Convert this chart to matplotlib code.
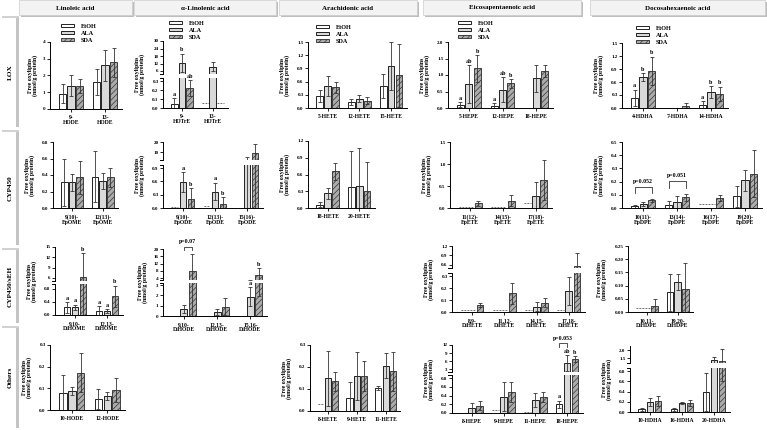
import numpy as np
import matplotlib
matplotlib.use('Agg')
import matplotlib.pyplot as plt
from matplotlib.patches import Rectangle, Patch

plt.rcParams['font.family'] = ['Liberation Serif', 'DejaVu Serif']
plt.rcParams['font.weight'] = 'bold'
plt.rcParams['hatch.linewidth'] = 0.45

nd = np.nan  # not detected

treatments = ['EtOH', 'ALA', 'SDA']
col_titles = ['Linoleic acid', 'α-Linolenic acid', 'Arachidonic acid',
              'Eicosapentaenoic acid', 'Docosahexaenoic acid']
row_titles = ['LOX', 'CYP450', 'CYP450/sEH', 'Others']

# ---- data: mean / sd rows are EtOH, ALA, SDA (nmol/g protein) ----
# LOX
lox_la_labels = ['9-\nHODE', '13-\nHODE']
lox_la_mean = [[0.92, 1.60], [1.40, 2.60], [1.40, 2.78]]
lox_la_sd = [[0.55, 0.78], [0.65, 0.95], [0.42, 0.88]]

lox_aln_labels = ['9-\nHOTrE', '13-\nHOTrE']
lox_aln_mean = [[0.05, nd], [12.5, 9.5], [0.22, nd]]
lox_aln_sd = [[0.06, 0], [7.5, 3.7], [0.09, 0]]
lox_aln_letters = [['a', ''], ['b', ''], ['ab', '']]
lox_aln_lod = [None, 0.055]

lox_aa_labels = ['5-HETE', '12-HETE', '15-HETE']
lox_aa_mean = [[0.27, 0.13, 0.50], [0.50, 0.21, 0.95], [0.47, 0.17, 0.74]]
lox_aa_sd = [[0.13, 0.07, 0.27], [0.22, 0.08, 0.55], [0.12, 0.09, 0.72]]

lox_epa_labels = ['5-HEPE', '12-HEPE', '18-HEPE']
lox_epa_mean = [[0.10, 0.07, nd], [0.73, 0.56, 0.90], [1.20, 0.75, 1.12]]
lox_epa_sd = [[0.07, 0.07, 0], [0.57, 0.38, 0.40], [0.40, 0.13, 0.18]]
lox_epa_letters = [['a', 'a', ''], ['ab', 'ab', ''], ['b', 'b', '']]

lox_dha_labels = ['4-HDHA', '7-HDHA', '14-HDHA']
lox_dha_mean = [[0.23, nd, 0.06], [0.72, nd, 0.37], [0.85, 0.05, 0.33]]
lox_dha_sd = [[0.19, 0, 0.10], [0.09, 0, 0.14], [0.33, 0.06, 0.16]]
lox_dha_letters = [['a', '', 'a'], ['b', '', 'b'], ['b', '', 'b']]
lox_dha_lod = [None, 0.008, None]

# CYP450
cyp_la_labels = ['9(10)-\nEpOME', '12(13)-\nEpOME']
cyp_la_mean = [[0.31, 0.38], [0.31, 0.33], [0.37, 0.37]]
cyp_la_sd = [[0.29, 0.31], [0.10, 0.10], [0.20, 0.12]]

cyp_aln_labels = ['9(10)-\nEpODE', '12(13)-\nEpODE', '15(16)-\nEpODE']
cyp_aln_mean = [[nd, nd, nd], [0.58, 0.37, 2.5], [0.20, 0.09, 9.0]]
cyp_aln_sd = [[0, 0, 0], [0.23, 0.20, 2.8], [0.25, 0.16, 9.5]]
cyp_aln_letters = [['', '', ''], ['a', 'a', ''], ['b', 'b', '']]
cyp_aln_lod = [0.02, 0.035, None]

cyp_aa_labels = ['18-HETE', '20-HETE']
cyp_aa_mean = [[0.06, 0.38], [0.26, 0.39], [0.66, 0.30]]
cyp_aa_sd = [[0.05, 0.64], [0.10, 0.69], [0.15, 0.52]]

cyp_epa_labels = ['11(12)-\nEpETE', '14(15)-\nEpETE', '17(18)-\nEpETE']
cyp_epa_mean = [[nd, nd, nd], [nd, nd, 0.28], [0.11, 0.17, 0.64]]
cyp_epa_sd = [[0, 0, 0], [0, 0, 0.32], [0.06, 0.12, 0.46]]
cyp_epa_lod = [0.02, 0.02, 0.11]

cyp_dha_labels = ['10(11)-\nEpDPE', '13(14)-\nEpDPE', '16(17)-\nEpDPE', '19(20)-\nEpDPE']
cyp_dha_mean = [[0.012, 0.025, nd, 0.088], [0.030, 0.045, nd, 0.21], [0.057, 0.080, 0.075, 0.26]]
cyp_dha_sd = [[0.013, 0.025, 0, 0.08], [0.015, 0.043, 0, 0.08], [0.013, 0.027, 0.025, 0.18]]
cyp_dha_lod = [None, None, 0.03, None]
cyp_dha_pvals = ['p=0.052', 'p=0.051']

# CYP450/sEH
seh_la_labels = ['9,10-\nDiHOME', '12,13-\nDiHOME']
seh_la_mean = [[0.23, 0.12], [0.23, 0.12], [6.3, 0.57]]
seh_la_sd = [[0.17, 0.15], [0.08, 0.05], [6.9, 0.33]]
seh_la_letters = [['a', 'a'], ['a', 'a'], ['b', 'b']]

seh_aln_labels = ['9,10-\nDiHODE', '12,13-\nDiHODE', '15,16-\nDiHODE']
seh_aln_mean = [[nd, nd, nd], [0.65, 0.39, 1.86], [8.0, 0.88, 5.7]]
seh_aln_sd = [[0, 0, 0], [0.40, 0.26, 0.91], [9.2, 0.82, 3.8]]
seh_aln_letters = [['', '', ''], ['', '', 'a'], ['', '', 'b']]
seh_aln_lod = [None, None, 0.02]
seh_aln_pvals = ['p=0.07']

seh_epa_labels = ['8,9-\nDiHETE', '11,12-\nDiHETE', '14,15-\nDiHETE', '17,18-\nDiHETE']
seh_epa_mean = [[nd, nd, nd, nd], [nd, nd, 0.045, 0.175], [0.058, 0.155, 0.078, 0.55]]
seh_epa_sd = [[0, 0, 0, 0], [0, 0, 0.035, 0.115], [0.014, 0.085, 0.037, 0.42]]
seh_epa_lod = [0.02, 0.02, 0.02, 0.02]

seh_dha_labels = ['10,11-\nDiHDPE', '19,20-\nDiHDPE']
seh_dha_mean = [[nd, 0.075], [nd, 0.114], [0.022, 0.087]]
seh_dha_sd = [[0, 0.07], [0, 0.03], [0.028, 0.10]]
seh_dha_lod = [0.015, None]

# Others
oth_la_labels = ['10-HODE', '12-HODE']
oth_la_mean = [[0.077, 0.049], [0.088, 0.065], [0.172, 0.092]]
oth_la_sd = [[0.085, 0.046], [0.02, 0.02], [0.09, 0.054]]

oth_aa_labels = ['8-HETE', '9-HETE', '11-HETE']
oth_aa_mean = [[nd, 0.06, 0.105], [0.148, 0.16, 0.205], [0.135, 0.158, 0.18]]
oth_aa_sd = [[0, 0.072, 0.01], [0.125, 0.11, 0.057], [0.043, 0.068, 0.09]]
oth_aa_lod = [0.03, None, None]

oth_epa_labels = ['8-HEPE', '9-HEPE', '11-HEPE', '18-HEPE']
oth_epa_mean = [[nd, nd, nd, 0.20], [0.12, 0.37, 0.29, 5.2], [0.17, 0.49, 0.37, 6.7]]
oth_epa_sd = [[0, 0, 0, 0.08], [0.11, 0.33, 0.16, 3.1], [0.10, 0.23, 0.11, 1.0]]
oth_epa_letters = [['', '', '', 'a'], ['', '', '', 'ab'], ['', '', '', 'b']]
oth_epa_lod = [0.01, 0.07, 0.03, None]
oth_epa_pvals = ['p=0.053']

oth_dha_labels = ['10-HDHA', '16-HDHA', '20-HDHA']
oth_dha_mean = [[0.052, 0.05, 0.39], [0.197, 0.177, 1.35], [0.22, 0.177, 1.32]]
oth_dha_sd = [[0.025, 0.03, 0.38], [0.08, 0.02, 0.2], [0.1, 0.05, 0.72]]

# ---- layout (pixels in a 767x430 canvas) ----
W, H = 767, 430
OFF = [-0.25, 0.0, 0.25]
BW = 0.21
STYLE = [dict(facecolor='white', edgecolor='black'),
         dict(facecolor='#d9d9d9', edgecolor='black'),
         dict(facecolor='#ababab', edgecolor='#2a2a2a', hatch='//////')]

f1 = [0, 0.3, 0.6, 0.9, 1.2, 1.5]
panels = [
    dict(labels=lox_la_labels, mean=lox_la_mean, sd=lox_la_sd, x=(50, 122), y=(42, 109),
         ylim=(0, 4), yticks=[0, 1, 2, 3, 4], fmt='%d', legend=(61, 24)),
    dict(labels=lox_aln_labels, mean=lox_aln_mean, sd=lox_aln_sd, letters=lox_aln_letters, lod=lox_aln_lod,
         x=(163, 228), y=(41, 74, 78, 108), ylim_top=(3.6, 30), yticks_top=[6, 12, 18, 24, 30], fmt_top='%d',
         ylim=(0, 0.335), yticks=[0, 0.1, 0.2, 0.3], fmt='%.1f', legend=(169, 21)),
    dict(labels=lox_aa_labels, mean=lox_aa_mean, sd=lox_aa_sd, x=(308, 407), y=(42, 108),
         ylim=(0, 1.5), yticks=f1, fmt='%.1f', legend=(316, 25)),
    dict(labels=lox_epa_labels, mean=lox_epa_mean, sd=lox_epa_sd, letters=lox_epa_letters,
         x=(448, 553), y=(42, 108), ylim=(0, 2), yticks=[0, 0.5, 1, 1.5, 2], fmt='%.1f', legend=(458, 21)),
    dict(labels=lox_dha_labels, mean=lox_dha_mean, sd=lox_dha_sd, letters=lox_dha_letters, lod=lox_dha_lod,
         x=(622, 728), y=(43, 108), ylim=(0, 1.5), yticks=f1, fmt='%.1f', legend=(636, 26)),

    dict(labels=cyp_la_labels, mean=cyp_la_mean, sd=cyp_la_sd, x=(53, 118), y=(142, 208),
         ylim=(0, 0.8), yticks=[0, 0.2, 0.4, 0.6, 0.8], fmt='%.1f'),
    dict(labels=cyp_aln_labels, mean=cyp_aln_mean, sd=cyp_aln_sd, letters=cyp_aln_letters, lod=cyp_aln_lod,
         x=(163, 263), y=(142, 160, 165, 208), ylim_top=(2.3, 20), yticks_top=[10, 20], fmt_top='%d',
         ylim=(0, 0.97), yticks=[0, 0.3, 0.6, 0.9], fmt='%.1f'),
    dict(labels=cyp_aa_labels, mean=cyp_aa_mean, sd=cyp_aa_sd, x=(308, 375), y=(141, 208),
         ylim=(0, 1.2), yticks=f1[:5], fmt='%.1f'),
    dict(labels=cyp_epa_labels, mean=cyp_epa_mean, sd=cyp_epa_sd, lod=cyp_epa_lod, x=(450, 552), y=(142, 208),
         ylim=(0, 1.5), yticks=[0, 0.5, 1, 1.5], fmt='%.1f'),
    dict(labels=cyp_dha_labels, mean=cyp_dha_mean, sd=cyp_dha_sd, lod=cyp_dha_lod, x=(622, 762), y=(142, 208),
         ylim=(0, 0.5), yticks=[0, 0.1, 0.2, 0.3, 0.4, 0.5], fmt='%.1f',
         brackets=[(0, 0, 2, 0.162, 0.112, cyp_dha_pvals[0]), (1, 0, 2, 0.205, 0.155, cyp_dha_pvals[1])]),

    dict(labels=seh_la_labels, mean=seh_la_mean, sd=seh_la_sd, letters=seh_la_letters,
         x=(55, 123), y=(247, 281, 284, 315), ylim_top=(5.1, 15), yticks_top=[6, 9, 12, 15], fmt_top='%d',
         ylim=(0, 0.95), yticks=[0, 0.4, 0.8], fmt='%.1f'),
    dict(labels=seh_aln_labels, mean=seh_aln_mean, sd=seh_aln_sd, letters=seh_aln_letters, lod=seh_aln_lod,
         x=(163, 267), y=(249, 280, 283, 316), ylim_top=(2.9, 20), yticks_top=[4, 8, 12, 16, 20], fmt_top='%d',
         ylim=(0, 3.2), yticks=[0, 1, 2, 3], fmt='%d',
         brackets=[(0, 1, 2, 21.3, 19.6, seh_aln_pvals[0])]),
    dict(labels=seh_epa_labels, mean=seh_epa_mean, sd=seh_epa_sd, lod=seh_epa_lod,
         x=(452, 585), y=(246, 268, 273, 312), ylim_top=(0.5, 1.2), yticks_top=[0.6, 0.9, 1.2], fmt_top='%.1f',
         ylim=(0, 0.325), yticks=[0, 0.1, 0.2, 0.3], fmt='%.1f'),
    dict(labels=seh_dha_labels, mean=seh_dha_mean, sd=seh_dha_sd, lod=seh_dha_lod, x=(628, 693), y=(246, 312),
         ylim=(0, 0.25), yticks=[0, 0.05, 0.1, 0.15, 0.2, 0.25], fmt='%.2f'),

    dict(labels=oth_la_labels, mean=oth_la_mean, sd=oth_la_sd, x=(50, 125), y=(345, 410),
         ylim=(0, 0.3), yticks=[0, 0.1, 0.2, 0.3], fmt='%.1f'),
    dict(labels=oth_aa_labels, mean=oth_aa_mean, sd=oth_aa_sd, lod=oth_aa_lod, x=(310, 400), y=(345, 411),
         ylim=(0, 0.3), yticks=[0, 0.1, 0.2, 0.3], fmt='%.1f'),
    dict(labels=oth_epa_labels, mean=oth_epa_mean, sd=oth_epa_sd, letters=oth_epa_letters, lod=oth_epa_lod,
         x=(452, 583), y=(345, 372, 375, 413), ylim_top=(1.9, 12), yticks_top=[3, 6, 9, 12], fmt_top='%d',
         ylim=(0, 0.87), yticks=[0, 0.2, 0.4, 0.6, 0.8], fmt='%.1f',
         brackets=[(3, 0, 1, 12.6, 11.2, oth_epa_pvals[0])]),
    dict(labels=oth_dha_labels, mean=oth_dha_mean, sd=oth_dha_sd,
         x=(630, 730), y=(346, 363, 368, 412), ylim_top=(1.19, 2.25), yticks_top=[1.5, 2.0], fmt_top='%.1f',
         ylim=(0, 0.86), yticks=[0, 0.2, 0.4, 0.6, 0.8], fmt='%.1f'),
]

fig = plt.figure(figsize=(W / 100, H / 100), dpi=100)


def add_ax(x0, x1, y0, y1):
    return fig.add_axes([x0 / W, 1 - y1 / H, (x1 - x0) / W, (y1 - y0) / H])


def fig_rect(x0, y0, x1, y1, **kw):
    fig.add_artist(Rectangle((x0 / W, 1 - y1 / H), (x1 - x0) / W, (y1 - y0) / H,
                             transform=fig.transFigure, **kw))


def style_ax(ax, ticks, fmt, ylim, with_x):
    for s in ['top', 'right']:
        ax.spines[s].set_visible(False)
    ax.spines['left'].set_linewidth(0.7)
    ax.spines['bottom'].set_linewidth(0.7)
    ax.set_ylim(ylim)
    ax.set_yticks(ticks)
    ax.set_yticklabels([fmt % t for t in ticks])
    ax.tick_params(axis='y', length=2.2, width=0.6, pad=1, labelsize=3.6)
    ax.tick_params(axis='x', length=2, width=0.6, pad=2.5, labelsize=4.1)
    if not with_x:
        ax.spines['bottom'].set_visible(False)
        ax.tick_params(axis='x', bottom=False, labelbottom=False)


def draw_bars(ax, p):
    n = len(p['labels'])
    xs = np.arange(n)
    mean = np.array(p['mean'], dtype=float)
    sd = np.array(p['sd'], dtype=float)
    lod = p.get('lod')
    if lod is not None:
        for i in range(n):
            if lod[i] is None:
                continue
            miss = [k for k in range(3) if np.isnan(mean[k, i])]
            xa = i + OFF[min(miss)] - BW / 2
            xb = i + OFF[max(miss)] + BW / 2
            ax.plot([xa, xb], [lod[i], lod[i]], ls=(0, (2.2, 1.4)), color='#555555', lw=0.6, zorder=0.5)
    for k in range(3):
        ok = ~np.isnan(mean[k])
        ax.bar(xs[ok] + OFF[k], mean[k][ok], BW, linewidth=0.6, zorder=1, **STYLE[k])
        ax.errorbar(xs[ok] + OFF[k], mean[k][ok], yerr=sd[k][ok], fmt='none', ecolor='#333333',
                    elinewidth=0.6, capsize=1.6, capthick=0.6, zorder=2)
    ax.set_xlim(-0.62, n - 0.5)


for p in panels:
    x0, x1 = p['x']
    n = len(p['labels'])
    broken = 'ylim_top' in p
    if broken:
        yt, yb1, yb2, yb = p['y']
        ax_top = add_ax(x0, x1, yt, yb1)
        ax = add_ax(x0, x1, yb2, yb)
        draw_bars(ax_top, dict(p, lod=None))
        draw_bars(ax, p)
        style_ax(ax_top, p['yticks_top'], p['fmt_top'], p['ylim_top'], False)
        style_ax(ax, p['yticks'], p['fmt'], p['ylim'], True)
        d = 3.5 / (x1 - x0)
        ax_top.plot([-d, 0], [0, 0], transform=ax_top.transAxes, color='k', lw=0.7, clip_on=False)
        ax.plot([-d, 0], [1, 1], transform=ax.transAxes, color='k', lw=0.7, clip_on=False)
        ycen = (yt + yb) / 2
    else:
        ax_top = None
        yt, yb = p['y']
        ax = add_ax(x0, x1, yt, yb)
        draw_bars(ax, p)
        style_ax(ax, p['yticks'], p['fmt'], p['ylim'], True)
        ycen = (yt + yb) / 2
    ax.set_xticks(np.arange(n))
    ax.set_xticklabels(p['labels'], linespacing=0.95)

    # y label, placed by tick-label width
    nchar = max(len(p['fmt'] % t) for t in p['yticks'])
    if broken:
        nchar = max(nchar, max(len(p['fmt_top'] % t) for t in p['yticks_top']))
    lx = x0 - (14 + 3 * nchar)
    fig.text(lx / W, 1 - ycen / H, 'Free oxylipins\n(nmol/g protein)', rotation=90,
             ha='center', va='center', fontsize=4.2, linespacing=1.0)

    def pick(val):
        if ax_top is not None and val > p['ylim'][1]:
            return ax_top
        return ax

    letters = p.get('letters')
    if letters is not None:
        for k in range(3):
            for i in range(n):
                if letters[k][i] and not np.isnan(p['mean'][k][i]):
                    top = p['mean'][k][i] + p['sd'][k][i]
                    pick(top).annotate(letters[k][i], (i + OFF[k], top), xytext=(0, 1),
                                       textcoords='offset points', ha='center', va='bottom',
                                       fontsize=4.4, annotation_clip=False)
    for (g, k1, k2, yb_, leg, txt) in p.get('brackets', []):
        a = pick(yb_)
        xa, xb = g + OFF[k1], g + OFF[k2]
        a.plot([xa, xa, xb, xb], [leg, yb_, yb_, leg], color='#333333', lw=0.6, clip_on=False)
        a.annotate(txt, ((xa + xb) / 2, yb_), xytext=(0, 2), textcoords='offset points',
                   ha='center', va='bottom', fontsize=4.2, annotation_clip=False)

    if 'legend' in p:
        lx, ly = p['legend']
        handles = [Patch(linewidth=0.6, **STYLE[k]) for k in range(3)]
        ax.legend(handles, treatments, loc='upper left', bbox_to_anchor=(lx / W, 1 - ly / H),
                  bbox_transform=fig.transFigure, frameon=False, fontsize=4.5, handlelength=2.0,
                  handleheight=0.45, handletextpad=1.2, labelspacing=0.3, borderpad=0, borderaxespad=0)

# column headers
col_x = [(19, 132), (134, 276), (279, 417), (423, 581), (590, 765)]
for (xa, xb), title in zip(col_x, col_titles):
    fig_rect(xa + 1.5, 2, xb + 1.5, 16.5, facecolor='#bdbdbd', edgecolor='none')
    fig_rect(xa, 0.5, xb, 15, facecolor='#f3f3f3', edgecolor='#cccccc', linewidth=0.5)
    fig.text((xa + xb) / 2 / W, 1 - 8 / H, title, ha='center', va='center', fontsize=5)

# row labels
row_y = [(17, 127), (131, 245), (249, 323), (327, 428)]
for (ya, yb), title in zip(row_y, row_titles):
    fig_rect(15.5, ya, 18.5, yb, facecolor='#c4c4c4', edgecolor='none')
    fig_rect(2, ya - 1, 18.5, ya + 0.5, facecolor='#d2d2d2', edgecolor='none')
    fig.text(10 / W, 1 - (ya + yb) / 2 / H, title, rotation=90, ha='center', va='center', fontsize=5.2)

fig.savefig('out.png', dpi=100)
